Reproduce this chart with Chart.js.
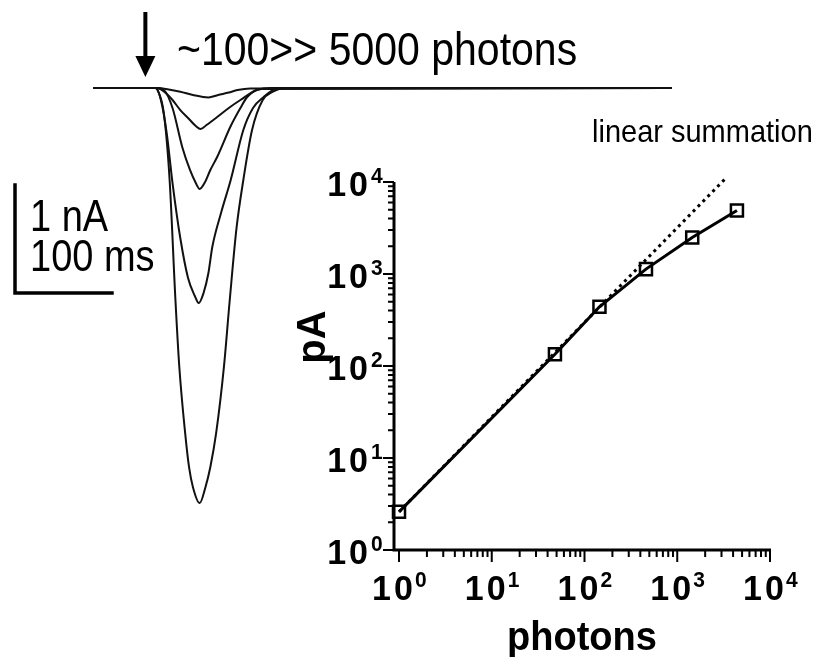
<!DOCTYPE html>
<html>
<head>
<meta charset="utf-8">
<script src="https://cdn.jsdelivr.net/npm/chart.js@4"></script>
<style>
html, body { margin: 0; padding: 0; background: #fff; }
#wrap { position: relative; width: 821px; height: 657px; }
#wrap canvas { position: absolute; left: 0; top: 0; }
</style>
</head>
<body>
<div id="wrap">
  <canvas id="traces" width="821" height="657"></canvas>
  <canvas id="dose" width="821" height="657"></canvas>
</div>
<script>
// Photocurrent traces: time (ms after flash) and current (pA)
const t1 = [-54, 13, 24, 36, 49, 65, 75, 86, 95, 108, 543];
const i1 = [0, 0, -14, -34, -65, -88, -65, -42, -19, -5, 0];
const t2 = [-54, 12, 21, 28, 36, 45, 52, 57, 63, 74, 86, 98, 115, 129, 543];
const i2 = [0, 0, -46, -111, -204, -287, -352, -380, -343, -269, -185, -111, -19, 0, 0];
const t3 = [-54, 11, 19, 28, 38, 46, 52, 56, 61, 67, 74, 88, 98, 105, 119, 543];
const i3 = [0, 0, -19, -185, -546, -759, -880, -935, -880, -759, -639, -352, -185, -83, -9, 0];
const t4 = [-54, 11, 16, 22, 28, 36, 44, 51, 55, 60, 65, 69, 78, 88, 101, 111, 122, 134, 144, 543];
const i4 = [0, 0, -111, -417, -880, -1389, -1759, -1926, -1991, -1898, -1713, -1472, -1157, -852, -389, -185, -83, -9, 0, 0];
const t5 = [-54, 10, 13, 19, 25, 31, 35, 41, 45, 49, 56, 62, 67, 73, 81, 87, 94, 101, 110, 121, 131, 144, 543];
const i5 = [0, 0, -28, -231, -852, -1963, -2583, -3194, -3509, -3694, -3843, -3694, -3509, -3194, -2583, -1963, -1296, -852, -389, -111, -37, 0, 0];

// Peak response vs flash strength (log-log)
const photons = [1, 48, 145, 460, 1450, 4400];
const peakPA = [2.6, 134, 440, 1130, 2500, 4900];
const linearPhotons = [1, 3400];
const linearPA = [2.6, 11200];
const decades = [0, 1, 2, 3, 4];
const minorSteps = [2, 3, 4, 5, 6, 7, 8, 9];

function pts(xs, ys) { return xs.map((v, k) => ({ x: v, y: ys[k] })); }

function stretchText(ctx, text, x, y, font, align, sy) {
  ctx.save();
  ctx.font = font;
  ctx.textAlign = align;
  ctx.textBaseline = 'alphabetic';
  ctx.translate(x, y);
  ctx.scale(1, sy);
  ctx.fillText(text, 0, 0);
  ctx.restore();
}

const traceNotes = {
  id: 'traceNotes',
  afterDraw(chart) {
    const ctx = chart.ctx, xs = chart.scales.x, ys = chart.scales.y;
    ctx.save();
    ctx.strokeStyle = '#000';
    ctx.fillStyle = '#000';
    // flash arrow
    const ax = xs.getPixelForValue(0);
    ctx.lineWidth = 4;
    ctx.beginPath(); ctx.moveTo(ax, 12); ctx.lineTo(ax, 60); ctx.stroke();
    ctx.beginPath(); ctx.moveTo(ax - 10, 56); ctx.lineTo(ax + 10, 56); ctx.lineTo(ax, 77); ctx.closePath(); ctx.fill();
    stretchText(ctx, '~100>> 5000 photons', 177, 65, '41px "Liberation Sans"', 'left', 1.12);
    // scale bar: 1 nA x 100 ms
    const barH = ys.getPixelForValue(-1000) - ys.getPixelForValue(0);
    const barW = xs.getPixelForValue(100) - xs.getPixelForValue(0);
    ctx.lineWidth = 3.5;
    ctx.lineCap = 'square';
    ctx.beginPath(); ctx.moveTo(15, 293 - barH); ctx.lineTo(15, 293); ctx.lineTo(15 + barW, 293); ctx.stroke();
    stretchText(ctx, '1 nA', 30, 231, '38px "Liberation Sans"', 'left', 1.15);
    stretchText(ctx, '100 ms', 30, 271, '38px "Liberation Sans"', 'left', 1.15);
    ctx.restore();
  }
};

const doseAxes = {
  id: 'doseAxes',
  afterDraw(chart) {
    const ctx = chart.ctx, xs = chart.scales.x, ys = chart.scales.y;
    const ax = 394, ay = ys.getPixelForValue(1);
    ctx.save();
    ctx.strokeStyle = '#000';
    ctx.fillStyle = '#000';
    ctx.lineWidth = 3;
    ctx.beginPath();
    ctx.moveTo(ax, ys.getPixelForValue(10000));
    ctx.lineTo(ax, ay);
    ctx.lineTo(xs.getPixelForValue(10000) + 1, ay);
    ctx.stroke();
    ctx.lineWidth = 2;
    decades.forEach(p => {
      const v = Math.pow(10, p);
      const ty = ys.getPixelForValue(v), tx = xs.getPixelForValue(v);
      ctx.beginPath();
      ctx.moveTo(ax, ty); ctx.lineTo(ax - 11, ty);
      ctx.moveTo(tx, ay); ctx.lineTo(tx, ay + 12);
      ctx.stroke();
      if (p < 4) {
        minorSteps.forEach(m => {
          const my = ys.getPixelForValue(m * v), mx = xs.getPixelForValue(m * v);
          ctx.beginPath();
          ctx.moveTo(ax, my); ctx.lineTo(ax - 6, my);
          ctx.moveTo(mx, ay); ctx.lineTo(mx, ay + 7);
          ctx.stroke();
        });
      }
      // tick labels 10^p
      ctx.letterSpacing = '3px';
      stretchText(ctx, '10', 371, ty + 14, 'bold 34px "Liberation Sans"', 'right', 1.05);
      stretchText(ctx, '10', tx - 5, ay + 50, 'bold 34px "Liberation Sans"', 'center', 1.05);
      ctx.letterSpacing = '0px';
      stretchText(ctx, String(p), 371, ty + 1, 'bold 21px "Liberation Sans"', 'left', 1.05);
      stretchText(ctx, String(p), tx + 16, ay + 37, 'bold 21px "Liberation Sans"', 'left', 1.05);
    });
    // axis titles
    ctx.save();
    ctx.translate(325, 337);
    ctx.rotate(-Math.PI / 2);
    stretchText(ctx, 'pA', 0, 0, 'bold 40px "Liberation Sans"', 'center', 1.0);
    ctx.restore();
    stretchText(ctx, 'photons', 582, 650, 'bold 38px "Liberation Sans"', 'center', 1.05);
    stretchText(ctx, 'linear summation', 592, 142, '29px "Liberation Sans"', 'left', 1.05);
    ctx.restore();
  }
};

new Chart(document.getElementById('traces'), {
  type: 'scatter',
  data: {
    datasets: [[t1, i1], [t2, i2], [t3, i3], [t4, i4], [t5, i5]].map(([t, i]) => ({
      data: pts(t, i),
      showLine: true,
      borderColor: '#111',
      borderWidth: 2,
      pointRadius: 0,
      cubicInterpolationMode: 'monotone',
      clip: false
    }))
  },
  options: {
    responsive: false,
    animation: false,
    layout: { padding: { left: 93, right: 149, top: 78, bottom: 0 } },
    plugins: { legend: { display: false }, tooltip: { enabled: false } },
    scales: {
      x: { type: 'linear', display: false, min: -54, max: 543 },
      y: { type: 'linear', display: false, min: -5268.5, max: 92.6 }
    }
  },
  plugins: [traceNotes]
});

new Chart(document.getElementById('dose'), {
  type: 'scatter',
  data: {
    datasets: [
      {
        data: pts(photons, peakPA),
        showLine: true,
        borderColor: '#000',
        borderWidth: 3,
        pointStyle: 'rect',
        pointRadius: 8.5,
        pointBorderWidth: 2.5,
        pointBorderColor: '#000',
        pointBackgroundColor: 'rgba(0,0,0,0)',
        clip: false
      },
      {
        data: pts(linearPhotons, linearPA),
        showLine: true,
        borderColor: '#000',
        borderWidth: 3,
        borderDash: [3, 4],
        pointRadius: 0,
        clip: false
      }
    ]
  },
  options: {
    responsive: false,
    animation: false,
    layout: { padding: { left: 399, right: 51, top: 182, bottom: 107 } },
    plugins: { legend: { display: false }, tooltip: { enabled: false } },
    scales: {
      x: { type: 'logarithmic', display: false, min: 1, max: 10000 },
      y: { type: 'logarithmic', display: false, min: 1, max: 10000 }
    }
  },
  plugins: [doseAxes]
});
</script>
</body>
</html>
